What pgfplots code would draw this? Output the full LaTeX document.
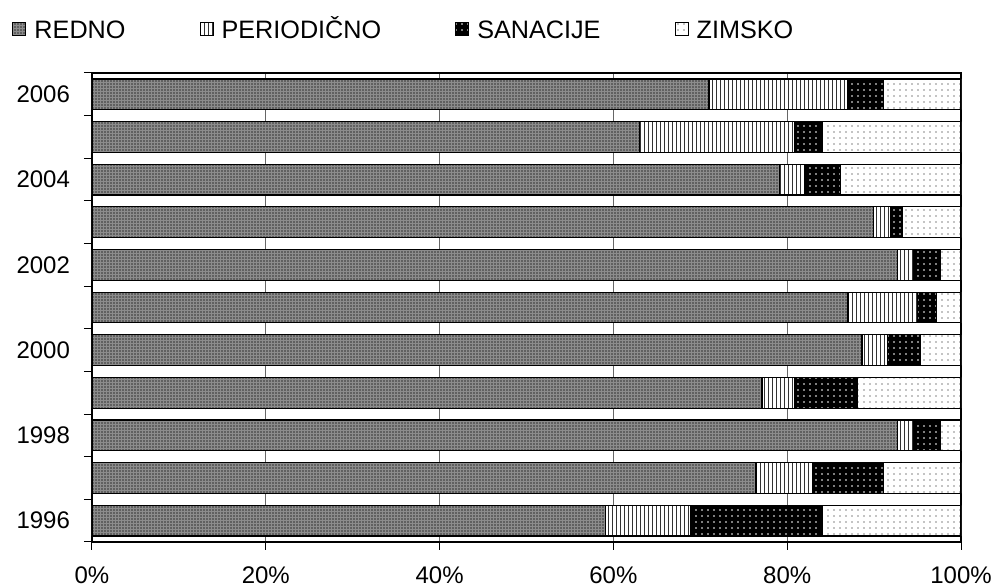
\documentclass[border=0pt]{standalone}
\usepackage{fontspec}
\setmainfont{Liberation Sans}
\usepackage{pgfplots}
\pgfplotsset{compat=1.18}
\usepackage{pgfplotstable}
\usetikzlibrary{patterns.meta}

\pgfplotstableread{
y redno per san zim
0 59.1 9.8 15.1 16.0
1 76.4 6.5 8.2 8.9
2 92.7 1.8 3.1 2.4
3 77.1 3.8 7.2 11.9
4 88.6 2.9 3.8 4.7
5 87.0 8.0 2.2 2.8
6 92.7 1.8 3.1 2.4
7 89.9 2.0 1.3 6.8
8 79.1 2.9 4.1 13.9
9 63.0 17.9 3.1 16.0
10 71.0 16.0 4.1 8.9
}\data

\pgfplotsset{
  leg/.style={legend image code/.code={\draw[##1, draw=black, line width=0.5pt] (0pt,-3.2pt) rectangle (6.5pt,3.3pt); \path (8.5pt,0pt);}},
}

\begin{document}
\begin{tikzpicture}
\begin{axis}[name=ax, scale only axis, width=434.5pt, height=234.5pt,
  xbar stacked, bar width=0.72,
  xmin=0, xmax=100, ymin=-0.5, ymax=10.5,
  xtick={0,20,40,60,80,100}, xticklabels={0\%,20\%,40\%,60\%,80\%,100\%},
  ytick={-0.5,0.5,1.5,2.5,3.5,4.5,5.5,6.5,7.5,8.5,9.5,10.5}, yticklabels={},
  extra y ticks={0,2,4,6,8,10},
  extra y tick labels={1996,1998,2000,2002,2004,2006},
  extra y tick style={major tick length=0pt, grid=none, yticklabel style={xshift=-7.5pt}},
  xtick pos=bottom, ytick pos=left, tick align=outside, major tick length=4pt,
  xmajorgrids, grid style={black!60, line width=0.4pt},
  axis line style={black, line width=0.6pt},
  tick style={black, line width=0.5pt},
  xticklabel style={yshift=-5pt},
  font=\fontsize{12}{14}\selectfont,
  ticklabel style={font=\fontsize{12}{14}\selectfont},
  legend columns=4,
  legend style={at={(0,1)}, anchor=west, xshift=-40pt, yshift=22pt, draw=none, fill=none, inner sep=0pt,
    legend cell align=left, font=\fontsize{12.6}{14}\selectfont,
    /tikz/every even column/.append style={column sep=35pt}},
]
\addplot[leg, draw=black, line width=0.6pt, fill=black!45, postaction={pattern={Dots[distance=1.5pt,radius=0.45pt]}, pattern color=black!80}] table[x=redno, y=y] {\data};
\addlegendentry{\vphantom{Č}REDNO}
\addplot[leg, draw=black, line width=0.6pt, fill=white, postaction={pattern={Lines[angle=90,distance=2pt,line width=0.5pt]}, pattern color=black!80}] table[x=per, y=y] {\data};
\addlegendentry{\vphantom{Č}PERIODIČNO}
\addplot[leg, draw=black, line width=0.6pt, fill=black, postaction={pattern={Dots[distance=3pt,radius=0.4pt]}, pattern color=white}] table[x=san, y=y] {\data};
\addlegendentry{\vphantom{Č}SANACIJE}
\addplot[leg, draw=black, line width=0.6pt, fill=white, postaction={pattern={Dots[distance=3pt,radius=0.35pt]}, pattern color=black}] table[x=zim, y=y] {\data};
\addlegendentry{\vphantom{Č}ZIMSKO}
\end{axis}
\pgfresetboundingbox
\path[use as bounding box] ([xshift=-46pt,yshift=-23pt]ax.south west) rectangle ([xshift=17pt,yshift=36.5pt]ax.north east);
\end{tikzpicture}
\end{document}
